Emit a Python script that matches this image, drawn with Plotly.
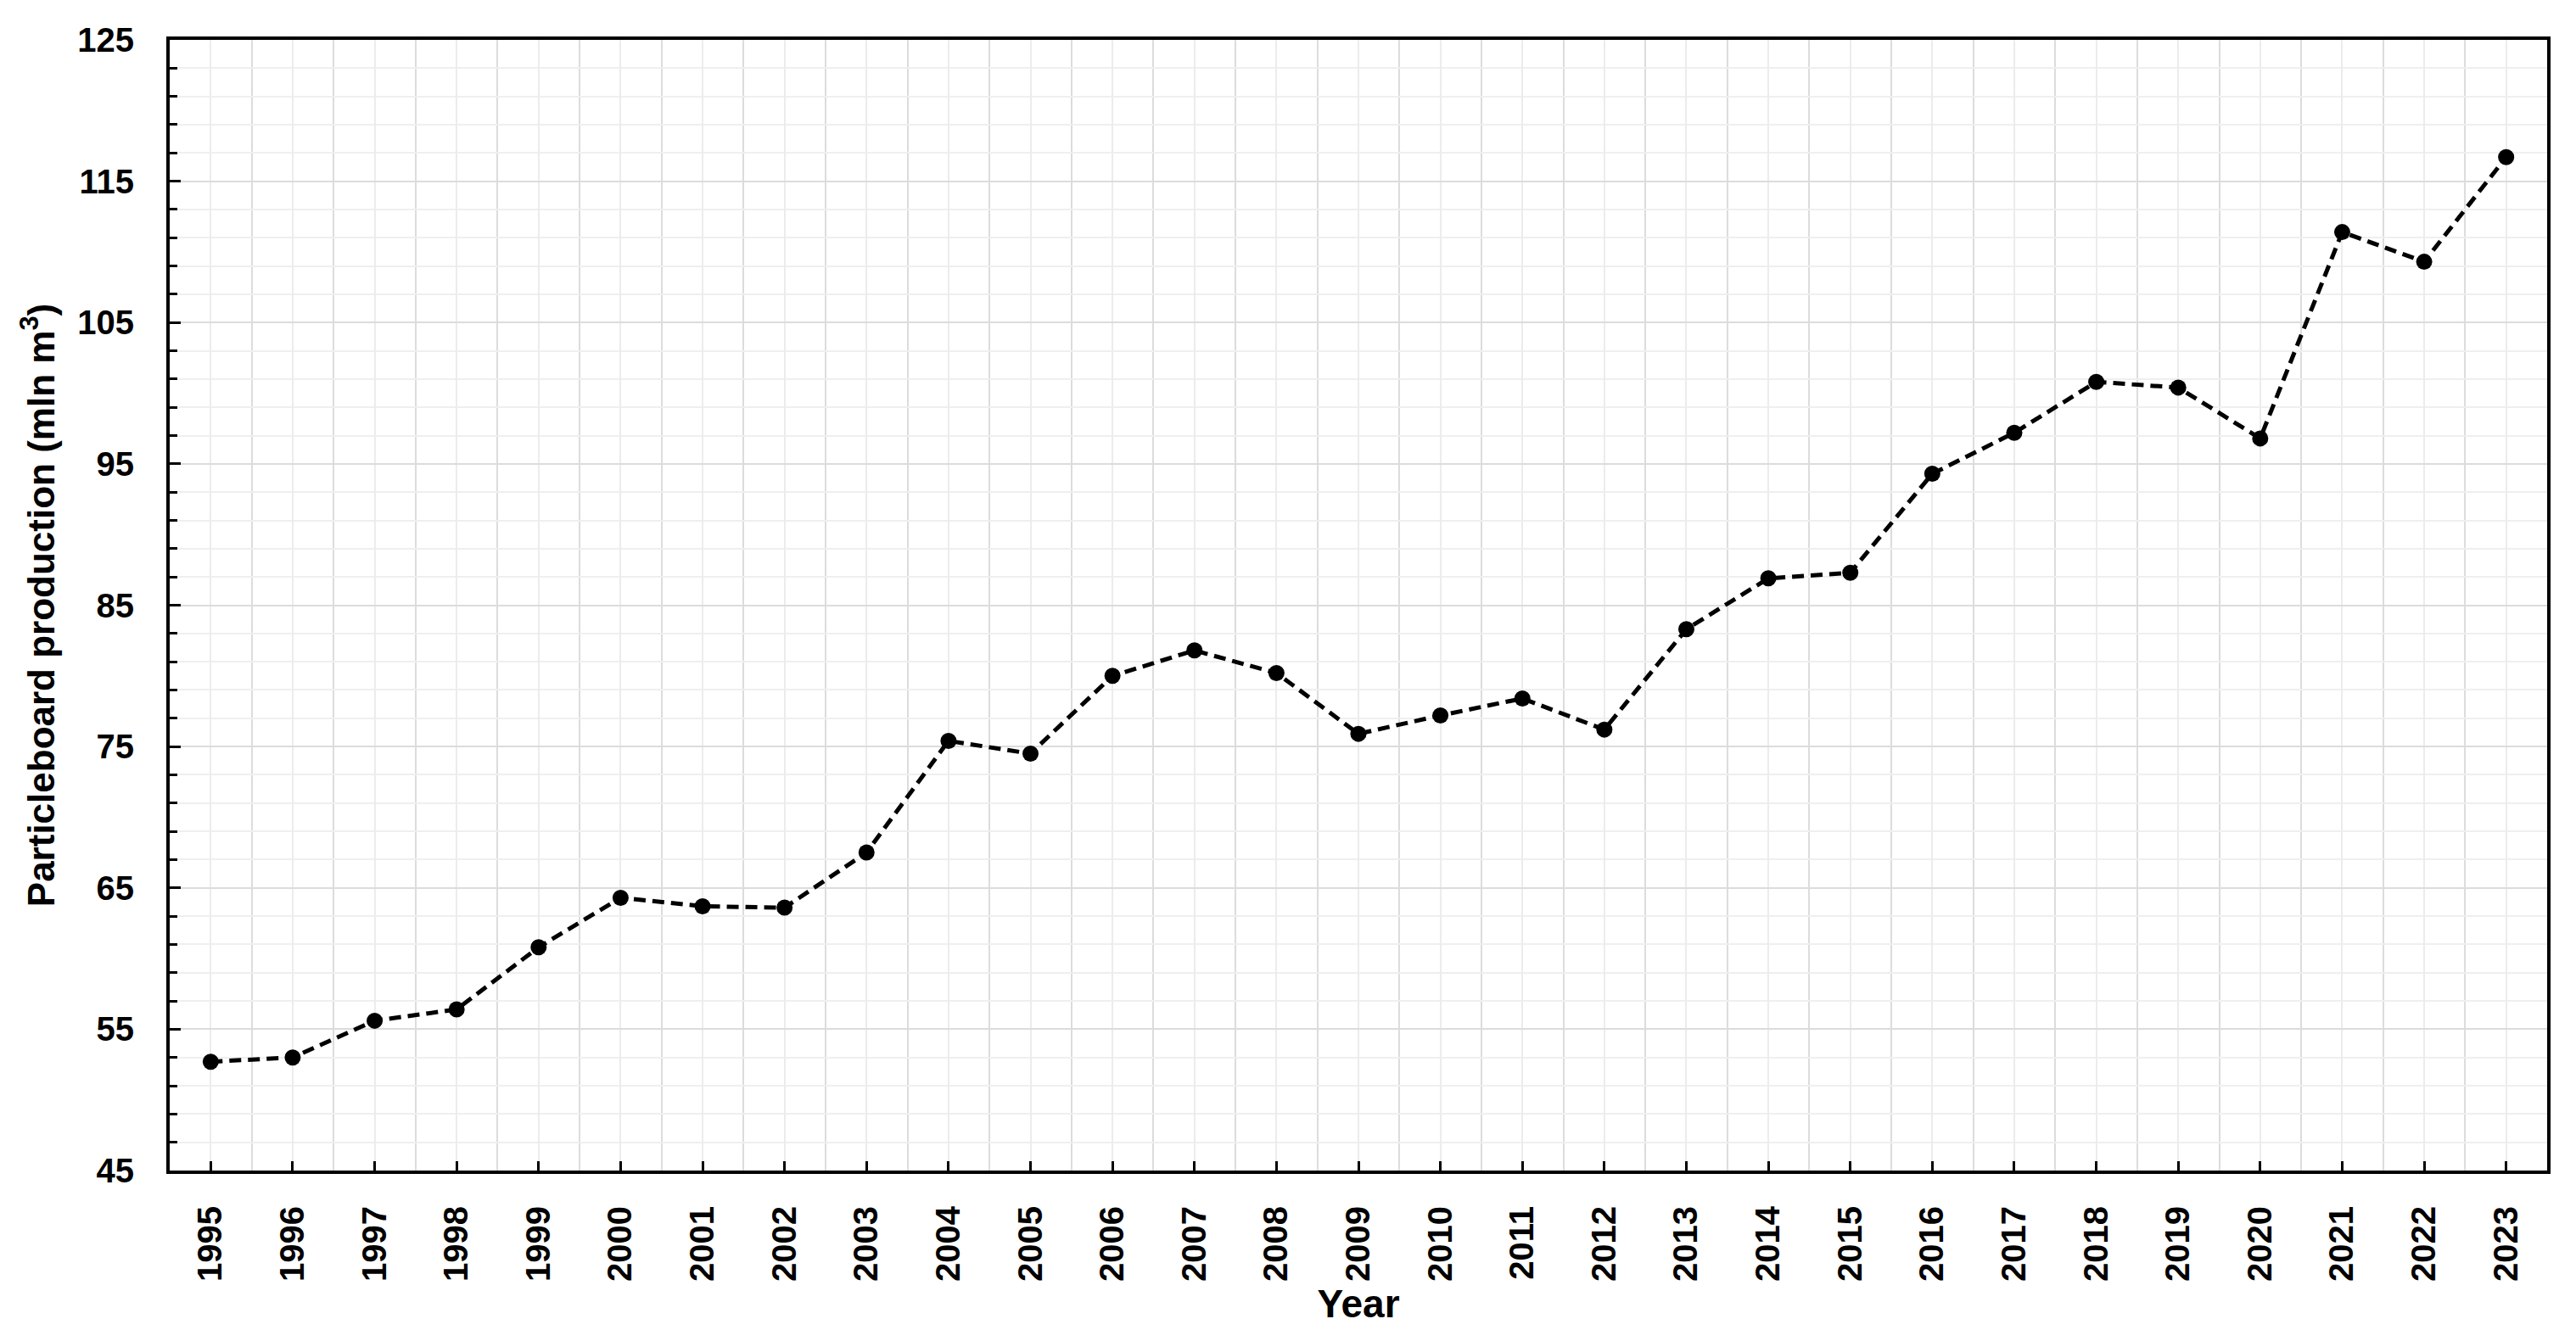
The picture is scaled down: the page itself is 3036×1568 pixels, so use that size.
import plotly.graph_objects as go

# Particleboard production by year (mln m3)
years = list(range(1995, 2024))
production = [52.7, 53.0, 55.6, 56.4, 60.8, 64.3, 63.7, 63.6, 67.5, 75.4,
              74.5, 80.0, 81.8, 80.2, 75.9, 77.2, 78.4, 76.2, 83.3, 86.9,
              87.3, 94.3, 97.2, 100.8, 100.4, 96.8, 111.4, 109.3, 116.7]
year_labels = [str(y) for y in years]
y_ticks = list(range(45, 126, 10))

FONT = "Arial, Liberation Sans, sans-serif"

fig = go.Figure()

fig.add_trace(go.Scatter(
    x=years,
    y=production,
    mode='lines+markers',
    line=dict(color='black', width=5, dash='14px,8px'),
    marker=dict(color='black', size=19),
    showlegend=False
))

fig.update_layout(
    width=3036,
    height=1568,
    paper_bgcolor='white',
    plot_bgcolor='white',
    margin=dict(l=192, r=42, t=39, b=196),
    font=dict(family=FONT, color='black'),
    xaxis=dict(
        range=[1994.5, 2023.5],
        tickmode='array',
        tickvals=years,
        ticktext=year_labels,
        tickangle=-90,
        tickfont=dict(size=40, weight='bold', family=FONT),
        ticks='inside',
        ticklen=11,
        tickwidth=3,
        tickcolor='black',
        ticklabelstandoff=22,
        showgrid=True,
        gridcolor='#ececec',
        gridwidth=2,
        minor=dict(tick0=1994.5, dtick=1, showgrid=True,
                   gridcolor='#dcdcdc', gridwidth=2, ticks=''),
        showline=True,
        linecolor='black',
        linewidth=4,
        mirror=True,
        zeroline=False,
        title=dict(text='Year', font=dict(size=46, weight='bold', family=FONT),
                   standoff=12),
    ),
    yaxis=dict(
        range=[45, 125],
        tickmode='array',
        tickvals=y_ticks,
        tickfont=dict(size=40, weight='bold', family=FONT),
        ticks='inside',
        ticklen=13,
        tickwidth=3,
        tickcolor='black',
        ticklabelstandoff=30,
        showgrid=True,
        gridcolor='#dcdcdc',
        gridwidth=2,
        minor=dict(tick0=45, dtick=2, showgrid=True, gridcolor='#efefef',
                   gridwidth=2, ticks='inside', ticklen=9, tickwidth=3,
                   tickcolor='black'),
        showline=True,
        linecolor='black',
        linewidth=4,
        mirror=True,
        zeroline=False,
        title=dict(text='Particleboard production (mln m<sup>3</sup>)',
                   font=dict(size=44, weight='bold', family=FONT),
                   standoff=14),
    ),
)

fig.write_html("out.html")
